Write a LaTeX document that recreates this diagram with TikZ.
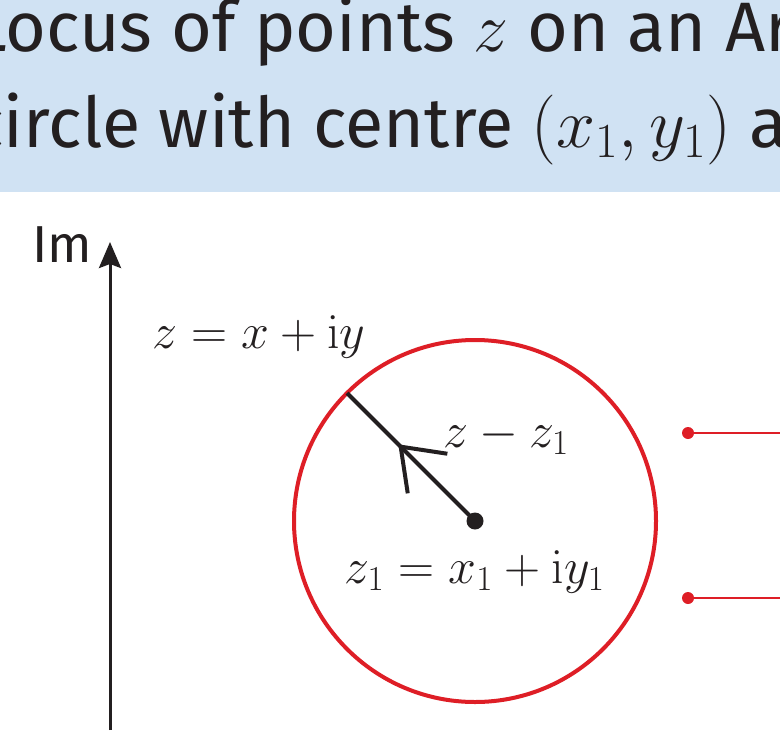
\RequirePackage{fix-cm}
\documentclass[tikz,border=0pt]{standalone}
\usepackage[no-math]{fontspec}
\setmainfont{Fira Sans}
\usepackage{xcolor}
\usetikzlibrary{arrows.meta}
\usetikzlibrary{decorations.markings, math}
\definecolor{myblue}{RGB}{208,226,243}
\definecolor{myred}{RGB}{222,30,38}
\definecolor{mygray}{RGB}{35,31,32}

\begin{document}
\begin{tikzpicture}[x=0.5pt, y=0.5pt,
  every node/.style={text=mygray, inner sep=0pt},
  ttl/.style={font=\fontsize{35}{42}\selectfont, anchor=base west},
  lbl/.style={font=\fontsize{25}{30}\selectfont},
  imaxis/.style={mygray, line width=1.5, -{Stealth[length=13pt, width=11pt, inset=2pt]}},
  zline/.style={mygray, line width=2, postaction={decorate},
    decoration={markings, mark=at position 0.6 with {\arrow{Straight Barb[length=19pt, width=28pt, line width=2pt]}}}},
  dot/.style={circle, fill=mygray, minimum size=8.5pt},
  reddot/.style={circle, fill=myred, minimum size=6pt},
  leader/.style={myred, line width=1}]
\tikzmath{
\R=181;
\cx=475; \cy=209;
}
\useasboundingbox (0,0) rectangle (780,730);
\clip (0,0) rectangle (780,730);

%title band
\fill[myblue] (0,538) rectangle (780,730);
\node[ttl] (lineone) at (-28,678) {Locus of points $z$ on an Ar};
\node[ttl] (linetwo) at (-30,583) {circle with centre $(x_1, y_1)$ a};

%imaginary axis
\coordinate (imfoot) at (110,0);
\coordinate (imtip) at (110,488);
\draw[imaxis] (imfoot) -- (imtip);
\node[anchor=base west, font=\fontsize{26}{30}\selectfont] (imlabel) at (32,468) {Im};

%the circle
\coordinate (centre) at (\cx,\cy);
\draw[myred, line width=2] (centre) circle(\R);
\node[dot] (zone) at (centre) {};
\coordinate (zpoint) at ([shift={(135:\R)}]centre);
\draw[zline] (zone.center) -- (zpoint);

%labels
\node[lbl, anchor=base west] (zlabel) at (152,382) {$z = x + \mathrm{i}y$};
\node[lbl, anchor=base west] (difflabel) at (443,283) {$z - z_1$};
\node[lbl, anchor=base] (zonelabel) at (\cx,147) {$z_1 = x_1 + \mathrm{i}y_1$};

%red leaders
\node[reddot] (upper) at (688,297) {};
\coordinate (upperend) at (780,297);
\draw[leader] (upper) -- (upperend);
\node[reddot] (lower) at (688,132) {};
\coordinate (lowerend) at (780,132);
\draw[leader] (lower) -- (lowerend);

\end{tikzpicture}
\end{document}
